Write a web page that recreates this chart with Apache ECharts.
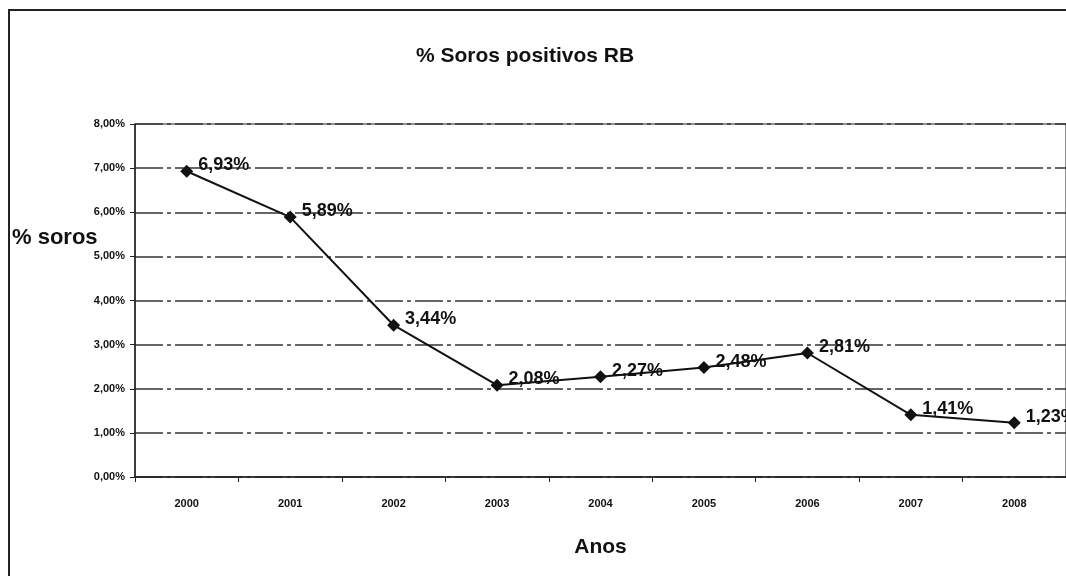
<!DOCTYPE html>
<html>
<head>
<meta charset="utf-8">
<script src="https://cdn.jsdelivr.net/npm/echarts@6/dist/echarts.min.js"></script>
<style>
  html, body { margin: 0; padding: 0; background: #fff; }
  #chart { width: 1066px; height: 576px; }
</style>
</head>
<body>
<div id="chart"></div>
<script>
  const years = ['2000', '2001', '2002', '2003', '2004', '2005', '2006', '2007', '2008'];
  const sorosPositivos = [6.93, 5.89, 3.44, 2.08, 2.27, 2.48, 2.81, 1.41, 1.23];

  const fmtPct = v => v.toFixed(2).replace('.', ',') + '%';

  const chart = echarts.init(document.getElementById('chart'));
  chart.setOption({
    animation: false,
    backgroundColor: '#fff',
    textStyle: { fontFamily: 'Liberation Sans, Arial, sans-serif', color: '#000' },
    title: {
      text: '% Soros positivos RB',
      left: 520,
      top: 41,
      textAlign: 'center',
      textStyle: { fontSize: 21, fontWeight: 'bold', color: '#111' }
    },
    graphic: [
      {
        type: 'rect',
        shape: { x: 9, y: 10, width: 1080, height: 600 },
        style: { fill: 'none', stroke: '#222', lineWidth: 2 }
      },
      {
        type: 'text',
        left: 12,
        top: 227,
        style: { text: '% soros', fontSize: 22, fontWeight: 'bold', fill: '#111',
                 fontFamily: 'Liberation Sans, Arial, sans-serif' }
      }
    ],
    grid: {
      left: 135,
      right: -3,
      top: 124,
      bottom: 99,
      show: true,
      borderColor: '#222',
      borderWidth: 1
    },
    xAxis: {
      type: 'category',
      data: years,
      name: 'Anos',
      nameLocation: 'middle',
      nameGap: 60,
      nameTextStyle: { fontSize: 21, fontWeight: 'bold', color: '#111' },
      axisLine: { lineStyle: { color: '#222', width: 1.5 } },
      axisTick: { show: true, length: 5, lineStyle: { color: '#222' } },
      axisLabel: { fontSize: 11, fontWeight: 'bold', color: '#111', margin: 21 }
    },
    yAxis: {
      type: 'value',
      min: 0,
      max: 8,
      interval: 1,
      axisLine: { show: true, lineStyle: { color: '#222', width: 1.5 } },
      axisTick: { show: true, length: 5, lineStyle: { color: '#222' } },
      axisLabel: { fontSize: 11, fontWeight: 'bold', color: '#111', margin: 10, formatter: fmtPct },
      splitLine: { show: true, lineStyle: { color: '#333', width: 1.5, type: [28, 4, 4, 4] } }
    },
    series: [
      {
        name: '% soros',
        type: 'line',
        data: sorosPositivos,
        symbol: 'diamond',
        symbolSize: 13,
        itemStyle: { color: '#111' },
        lineStyle: { color: '#111', width: 2 },
        label: {
          show: true,
          position: 'right',
          distance: 5,
          offset: [0, -6],
          fontSize: 18,
          fontWeight: 'bold',
          color: '#111',
          formatter: p => fmtPct(p.value)
        }
      }
    ]
  });
</script>
</body>
</html>
